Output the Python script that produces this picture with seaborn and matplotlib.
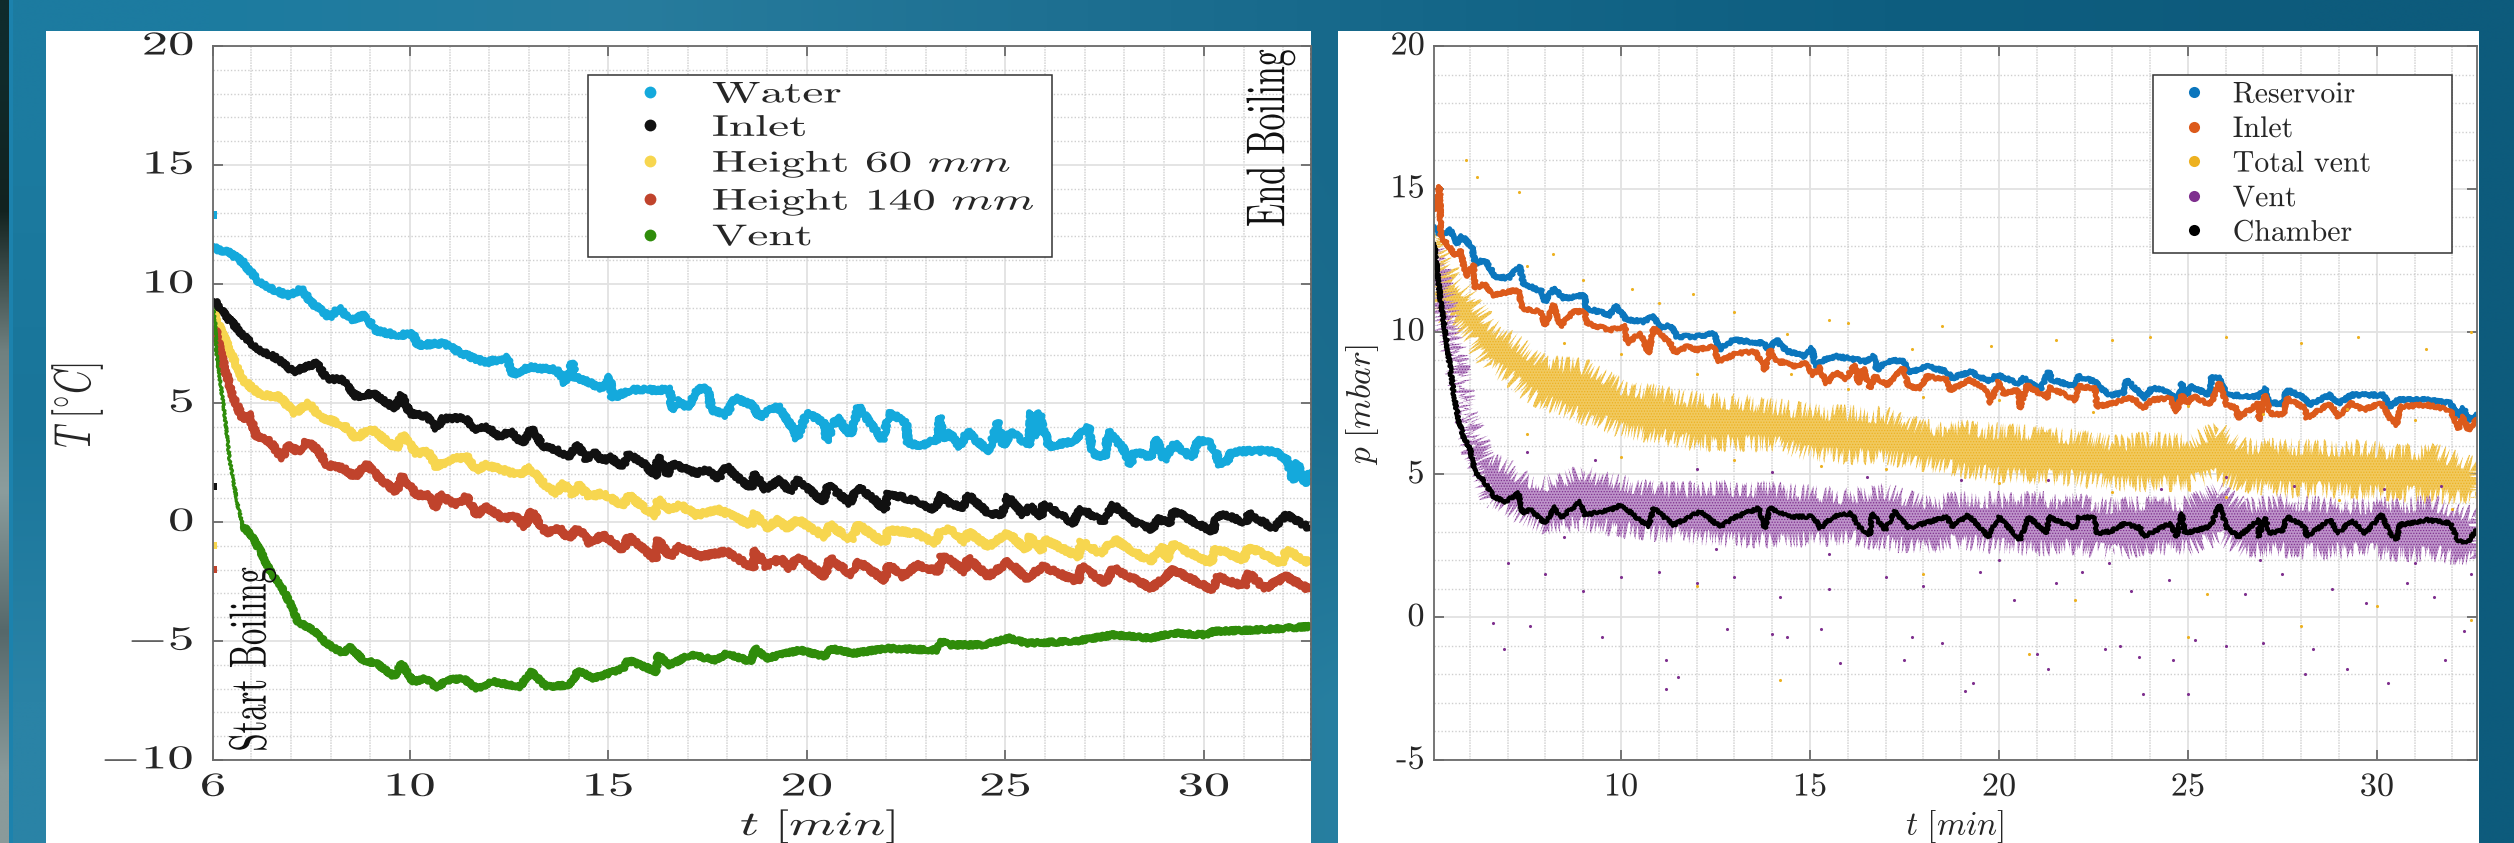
import numpy as np
import matplotlib
matplotlib.use("Agg")
import matplotlib.pyplot as plt
from matplotlib.lines import Line2D
from matplotlib.patches import Rectangle
from matplotlib.colors import to_rgb
from matplotlib.patheffects import AbstractPathEffect
from matplotlib.ticker import FixedLocator
from matplotlib.transforms import Affine2D
import seaborn as sns

# ---------- left panel: temperature ----------
water_t = [5.04,5.09,5.48,5.8,6.2,6.64,6.98,7.27,7.5,7.98,8.2,8.5,8.9,9.1,9.66,10.08,10.2,10.84,11.3,11.9,12.44,12.6,13.0,13.7,13.9,14.1,14.15,14.25,14.87,15.04,15.1,15.54,16.05,16.55,16.6,16.8,17.0,17.25,17.5,17.6,17.95,18.2,18.65,18.8,19.25,19.7,19.75,20.0,20.45,20.5,20.75,21.1,21.3,21.9,22.1,22.5,22.55,22.9,23.3,23.35,23.42,23.6,23.85,24.05,24.25,24.6,24.8,24.95,25.15,25.6,25.65,25.75,25.85,26.1,26.7,27.1,27.2,27.5,27.6,27.96,28.15,28.25,28.7,28.8,29.0,29.25,29.7,29.85,30.1,30.3,30.4,30.6,30.7,31.35,31.8,32.1,32.25,32.35,32.55,32.7]
water_T = [11.6,11.5,11.3,10.9,10.1,9.7,9.5,9.8,9.25,8.6,8.99,8.5,8.7,8.07,7.85,7.9,7.44,7.5,7.1,6.7,6.9,6.2,6.5,6.4,5.85,6.7,6.05,6.05,5.6,6.1,5.2,5.55,5.55,5.55,4.7,5.1,4.8,5.6,5.6,4.7,4.5,5.2,4.9,4.4,4.9,3.8,3.5,4.6,4.15,3.4,4.4,3.65,4.85,3.45,4.6,4.15,3.3,3.2,3.5,4.4,3.5,3.73,3.17,3.8,3.45,3.0,4.2,3.2,3.8,3.2,4.6,3.6,4.6,3.17,3.4,4.0,2.9,2.7,3.8,3.1,2.4,2.95,2.7,3.5,2.6,3.3,2.7,3.4,3.4,2.95,2.4,2.6,2.95,3.0,2.95,2.6,1.75,2.5,1.6,2.15]

inlet_t = [5.04,5.09,5.38,5.8,6.14,6.64,7.06,7.4,7.65,7.9,8.32,8.65,9.07,9.62,9.79,10.0,10.42,10.67,10.84,11.38,11.68,11.93,12.26,12.52,12.85,13.06,13.36,13.69,13.99,14.24,14.45,14.62,14.87,15.0,15.37,15.5,15.84,16.2,16.25,16.5,16.59,17.22,17.47,17.77,17.98,18.23,18.6,18.69,18.94,19.32,19.57,19.78,20.41,20.54,21.08,21.29,21.71,21.96,22.05,22.76,23.22,23.39,23.52,23.94,24.06,24.57,24.9,25.07,25.45,25.62,25.91,25.95,26.71,26.88,27.46,27.72,28.22,28.72,28.81,29.14,29.23,29.73,30.23,30.32,30.57,31.07,31.12,31.75,32.08,32.67]
inlet_T = [9.3,9.26,8.63,7.86,7.3,6.88,6.32,6.53,6.67,6.04,5.97,5.27,5.41,4.78,5.34,4.57,4.43,3.94,4.36,4.36,3.87,4.0,3.59,3.8,3.31,3.94,3.17,3.03,2.75,3.24,2.6,2.96,2.54,2.75,2.33,2.82,2.54,1.9,2.75,1.98,2.47,2.05,2.19,1.84,2.33,1.91,1.42,2.05,1.35,1.77,1.28,1.77,0.86,1.56,0.79,1.49,0.93,0.51,1.21,0.86,0.51,1.14,0.86,0.58,1.14,0.37,0.3,1.07,0.3,0.65,0.23,0.79,-0.05,0.58,0.02,0.72,0.02,-0.33,0.16,-0.05,0.51,0.02,-0.4,0.23,0.3,-0.05,0.37,-0.26,0.3,-0.26]

h60_t = [5.05,5.09,5.38,5.8,6.22,6.72,7.1,7.44,7.73,8.32,8.65,9.0,9.66,9.81,10.17,10.46,10.67,11.0,11.43,11.68,11.93,12.35,12.73,13.02,13.36,13.69,13.86,14.11,14.24,14.53,14.87,15.37,15.5,16.17,16.25,16.55,16.8,17.22,17.8,18.6,18.69,18.98,19.28,19.49,19.78,20.45,20.58,21.12,21.29,21.96,22.05,22.76,23.22,23.39,23.6,23.98,24.06,24.57,25.07,25.53,25.62,25.91,26.0,26.83,26.92,27.38,27.76,28.64,28.98,29.06,29.23,30.19,30.28,31.0,31.12,31.96,32.08,32.67]
h60_T = [8.8,8.63,7.51,5.97,5.34,5.27,4.57,4.99,4.43,4.08,3.52,3.94,3.1,3.66,2.89,2.96,2.33,2.61,2.75,2.19,2.4,2.19,1.98,2.26,1.63,1.21,1.63,1.14,1.56,1.07,1.21,0.65,1.14,0.23,0.93,0.51,0.72,0.3,0.51,-0.12,0.37,-0.26,0.09,-0.26,0.09,-0.61,-0.12,-0.75,-0.12,-0.89,-0.33,-0.47,-0.89,-0.33,-0.33,-0.82,-0.4,-1.03,-0.47,-1.17,-0.61,-1.17,-0.75,-1.45,-0.82,-1.31,-0.75,-1.66,-1.03,-1.59,-0.96,-1.73,-1.1,-1.59,-1.03,-1.73,-1.17,-1.73]

h140_t = [5.06,5.13,5.25,5.55,5.8,5.93,6.14,6.47,6.79,6.93,7.18,7.4,7.69,7.9,8.32,8.61,8.91,9.24,9.66,9.81,10.17,10.5,10.65,10.75,11.17,11.43,11.68,11.89,12.35,12.68,12.89,13.06,13.44,13.78,13.99,14.24,14.53,14.87,15.37,15.5,16.21,16.25,16.55,16.8,17.3,17.98,18.65,18.69,18.98,19.32,19.57,19.78,20.45,20.58,21.12,21.29,21.96,22.05,22.43,22.76,23.31,23.39,23.6,23.98,24.06,24.57,25.07,25.53,25.95,26.83,26.92,27.51,27.72,28.68,29.23,30.23,30.32,31.03,31.12,31.54,32.08,32.67]
h140_T = [8.1,7.93,6.95,5.27,4.29,4.57,3.59,3.38,2.68,3.24,2.96,3.38,3.03,2.4,2.26,1.91,2.4,1.84,1.27,1.91,1.14,1.14,0.58,1.14,0.72,1.07,0.29,0.65,0.16,0.23,-0.2,0.44,-0.47,-0.27,-0.69,-0.26,-0.89,-0.54,-1.17,-0.61,-1.59,-0.75,-1.45,-1.03,-1.45,-1.24,-1.94,-1.17,-1.87,-1.52,-1.94,-1.45,-2.29,-1.52,-2.22,-1.66,-2.43,-1.8,-2.29,-1.8,-2.08,-1.45,-1.59,-2.08,-1.52,-2.29,-1.66,-2.36,-1.87,-2.5,-1.87,-2.57,-1.94,-2.78,-2.01,-2.85,-2.29,-2.71,-2.15,-2.78,-2.29,-2.85]

vent_t = [5.04,5.09,5.13,5.34,5.46,5.67,5.8,5.97,6.22,6.47,6.77,6.98,7.18,7.56,7.9,8.32,8.49,8.82,9.16,9.62,9.79,10.08,10.42,10.67,10.92,11.34,11.68,12.1,12.77,13.06,13.44,13.99,14.11,14.24,14.62,15.37,15.5,16.21,16.25,16.55,17.05,17.72,17.98,18.6,18.69,18.98,19.82,20.49,20.58,21.17,22.0,23.27,23.39,23.6,24.44,25.11,25.53,26.71,27.72,28.64,29.23,30.07,30.23,31.33,32.08,32.67]
vent_T = [8.98,8.49,7.09,4.43,2.61,0.65,-0.2,-0.47,-1.18,-2.02,-2.72,-3.42,-4.19,-4.54,-5.1,-5.52,-5.24,-5.8,-5.94,-6.5,-5.94,-6.71,-6.57,-6.99,-6.64,-6.57,-6.99,-6.71,-6.92,-6.29,-6.92,-6.85,-6.7,-6.22,-6.57,-6.15,-5.8,-6.29,-5.59,-6.01,-5.59,-5.8,-5.52,-5.87,-5.31,-5.73,-5.38,-5.66,-5.31,-5.52,-5.31,-5.38,-5.03,-5.16,-5.16,-4.88,-5.09,-5.02,-4.74,-4.88,-4.67,-4.74,-4.6,-4.53,-4.46,-4.39]

axis_dots_t = [5.06,5.06,5.06,5.06]
axis_dots_T = [12.9,1.5,-1.0,-2.0]

# ---------- right panel: pressure ----------
res_t = [5.06,5.21,5.48,5.66,5.79,6.05,6.14,6.4,6.67,7.02,7.31,7.42,7.9,7.99,8.21,8.48,8.83,9.02,9.08,9.71,9.84,10.15,10.59,10.86,11.03,11.3,11.48,12.0,12.49,12.58,12.97,13.77,13.9,14.12,14.25,14.43,14.87,15.05,15.14,15.36,15.71,16.5,16.68,16.77,17.03,17.47,17.6,18.09,18.62,18.75,19.24,19.72,19.94,20.52,20.65,21.09,21.31,21.4,22.01,22.1,22.54,22.68,22.94,23.29,23.38,23.69,23.87,24.04,24.53,24.7,24.84,24.97,25.06,25.59,25.63,25.83,26.03,26.87,27.04,27.17,27.53,27.61,28.1,28.19,28.76,28.98,29.33,30.17,30.35,30.57,31.32,31.94,32.16,32.29,32.42,32.64]
res_p = [13.68,13.38,13.56,13.09,13.33,12.98,12.39,12.51,11.93,11.87,12.28,11.69,11.4,11.05,11.52,11.17,11.23,11.28,10.82,10.58,10.93,10.41,10.35,10.53,10.12,10.23,9.83,9.83,9.94,9.36,9.71,9.59,9.36,9.71,9.48,9.3,9.13,9.42,8.78,9.01,9.13,8.95,9.13,8.66,8.95,9.01,8.54,8.78,8.6,8.37,8.6,8.25,8.48,8.19,8.37,7.96,8.6,8.31,8.08,8.43,8.25,8.02,7.78,7.84,8.31,7.9,7.67,8.02,7.9,7.49,8.19,7.78,8.08,7.78,8.43,8.37,7.78,7.73,8.02,7.49,7.49,7.96,7.67,7.43,7.78,7.49,7.78,7.78,7.38,7.61,7.61,7.49,7.03,7.32,6.91,7.08]

inl_t = [5.06,5.2,5.23,5.48,5.61,5.76,5.88,6.1,6.14,6.4,6.58,7.29,7.37,7.86,7.99,8.21,8.39,8.74,9.05,9.09,9.71,10.11,10.15,10.51,10.73,10.86,11.3,11.43,11.74,12.0,12.45,12.58,13.06,13.55,13.81,13.94,14.17,14.25,14.56,14.87,15.09,15.22,15.44,15.71,15.93,16.19,16.28,16.41,16.59,16.72,17.03,17.47,17.6,17.91,18.09,18.62,18.71,19.24,19.72,19.77,19.99,20.12,20.52,20.56,20.74,21.27,21.31,22.01,22.1,22.54,22.59,23.03,23.38,23.6,23.82,24.04,24.53,24.7,24.84,24.97,25.15,25.59,25.83,26.03,26.29,26.32,26.87,26.88,27.04,27.17,27.53,27.61,28.1,28.14,28.76,28.98,29.33,29.64,30.12,30.35,30.52,30.61,31.32,31.94,32.16,32.29,32.42,32.64]
inl_p = [14.26,15.08,13.33,12.92,12.68,12.86,11.93,12.33,11.52,11.69,11.28,11.46,10.82,10.7,10.23,10.93,10.18,10.7,10.7,10.29,10.06,10.18,9.59,9.94,9.24,10.12,9.59,9.24,9.48,9.36,9.48,8.95,9.24,9.3,8.66,9.36,8.89,8.95,8.78,8.89,8.48,8.78,8.19,8.6,8.31,8.83,8.19,8.72,8.02,8.43,8.13,8.72,8.08,8.02,8.43,8.31,7.96,8.31,7.9,7.49,8.25,7.84,7.96,7.32,8.13,7.67,8.08,7.61,8.08,8.02,7.38,7.49,7.67,7.61,7.32,7.61,7.67,7.2,7.78,7.49,7.73,7.43,8.19,7.43,7.32,6.97,7.49,6.91,7.78,7.14,7.08,7.67,7.32,6.97,7.49,7.03,7.49,7.26,7.49,6.97,6.73,7.38,7.43,7.26,6.62,7.03,6.56,6.91]

ch_t = [5.06,5.21,5.39,5.57,5.7,5.83,6.01,6.14,6.32,6.63,6.93,7.29,7.37,7.6,7.99,8.26,8.39,8.92,9.05,9.71,10.02,10.42,10.73,10.86,11.39,12.09,12.62,12.97,13.64,13.81,13.94,14.43,14.65,15.09,15.27,15.62,16.1,16.28,16.59,16.64,16.99,17.25,17.6,18.62,18.75,19.19,19.72,19.99,20.56,20.78,21.27,21.31,22.01,22.1,22.54,22.59,22.94,23.34,23.69,23.73,23.82,24.53,24.7,24.84,24.92,25.59,25.83,26.03,26.34,26.87,26.88,27.04,27.17,27.53,27.61,28.1,28.14,28.76,28.98,29.33,29.69,30.12,30.35,30.52,30.61,31.32,31.94,32.16,32.42,32.64]
ch_p = [13.09,11.23,9.59,7.84,6.91,6.33,5.86,5.04,4.87,4.22,4.05,4.34,3.64,3.76,3.29,3.87,3.47,4.05,3.58,3.76,3.93,3.47,3.17,3.82,3.23,3.7,3.17,3.47,3.82,3.12,3.82,3.52,3.52,3.52,3.12,3.52,3.64,3.18,2.88,3.64,3.06,3.7,3.12,3.52,3.18,3.58,2.82,3.52,2.71,3.52,2.94,3.52,3.12,3.52,3.47,2.94,3.0,3.29,3.12,3.17,2.82,3.29,2.82,3.64,2.94,3.17,3.93,3.12,2.82,3.41,2.82,3.47,2.94,3.06,3.52,3.17,2.82,3.41,2.94,3.41,2.94,3.58,2.94,2.71,3.23,3.41,3.29,2.65,2.65,3.06]

tv_t  = [5.06,5.2,5.6,6.0,6.5,7,7.5,8,9,10,11,12,13,14,15,16,17,18,19,20,21,22,23,24,25,25.8,26.5,27.5,28.5,29.5,30.5,31.5,32.64]
tv_hi = [13.4,12.98,11.93,11.34,10.29,9.83,9.36,8.89,8.78,8.08,7.84,7.6,7.55,7.38,7.2,7.14,7.08,6.62,6.62,6.5,6.44,6.33,6.09,6.21,6.15,6.56,5.98,5.98,5.92,5.92,5.8,5.8,5.28]
tv_lo = [12.4,10.64,10.3,9.7,8.78,8.43,7.84,7.49,7.03,6.56,6.33,6.09,6.09,6.09,5.74,5.63,5.63,5.39,5.16,4.98,4.92,4.87,4.69,4.69,4.69,4.93,4.63,4.46,4.46,4.4,4.34,4.28,4.11]

pv_t  = [5.06,5.2,5.5,6.0,6.5,7,7.5,8,9,10,11,12,13,14,15,16,17,18,19,20,21,22,23,24,25,25.8,26.5,27.5,28.5,29.5,30.5,31.5,32.64]
pv_hi = [13.0,12.5,10.9,7.14,5.5,5.27,4.8,4.69,5.04,4.69,4.46,4.46,4.52,4.46,4.34,4.23,4.4,3.99,4.11,4.11,4.11,4.05,3.88,3.99,3.99,4.46,3.87,4.05,3.93,3.87,3.93,3.99,3.53]
pv_lo = [12.6,10.5,9.0,5.74,4.1,3.8,3.41,3.18,3.29,3.06,2.94,2.82,2.71,2.71,2.77,2.77,2.59,2.48,2.65,2.48,2.42,2.48,2.24,2.48,2.42,2.82,2.36,2.36,2.3,2.36,2.24,2.24,2.0]

pv_dots_t = [6.6,7.6,6.9,9.5,11.2,11.5,11.2,12.8,14,14.4,15.3,15.8,17.5,17.7,18.5,19.3,19.1,21,21.3,22.8,23.2,23.7,23.8,24.6,25,25.2,26.0,27,28.1,28.3,29.2,30.3,31.8,32.3,11,12,13,14.2,15.5,17,18,19.5,20.4,21.5,22.2,23.5,24.5,26.5,27.5,28.8,29.7,30.8,31.5,32.5,7,8,9,10,7.5,9.3,12,14,16.5,19,21.3,24.3,26,27.8,30.2,31.7,8.5,12.5,15.5,20,22.9,26.9,31]
pv_dots_p = [-0.2,-0.3,-1.1,-0.7,-1.5,-2.1,-2.5,-0.4,-0.6,-0.7,-0.4,-1.6,-1.5,-0.7,-0.9,-2.3,-2.6,-1.3,-1.8,-1.1,-1.0,-1.4,-2.7,-1.5,-2.7,-0.8,-1.0,-0.9,-2.0,-1.1,-1.8,-2.3,-1.5,-0.5,1.6,1.2,1.4,0.7,1.0,1.4,1.1,1.6,0.6,1.2,1.6,0.9,1.3,0.8,1.5,1.0,0.5,1.2,0.7,1.5,1.9,1.5,0.9,1.4,5.8,5.5,5.2,5.1,4.9,4.8,4.8,4.5,4.9,4.6,4.5,4.6,2.8,2.4,2.2,2.0,1.9,2.0,1.9]

tv_dots_t = [5.9,6.2,7.3,7.5,8.2,9,10.3,11,11.9,13,14.4,15.5,16,17.7,18.5,19.8,21.5,23,24,26,28,29.5,31.3,32.5,14.5,18,20,22.5,25,27,29.2,31,8.5,10,12,16,7.5,10,13,15.3,17,20,23,26,29,32,12,18,22,25.5,28,32.5,14.2,30,25,20.8]
tv_dots_p = [16,15.4,14.9,12.3,12.7,11.8,11.5,11,11.3,10.7,9.9,10.4,10.3,9.4,10.2,9.5,9.7,9.7,9.8,9.8,9.6,9.8,9.4,10,8.5,7.7,7.6,7.2,7.4,7.1,7.3,6.9,9.6,9.2,8.5,8,6.4,5.6,5.5,5.3,5.2,4.7,4.4,4.2,4.1,3.8,1.1,1.5,0.6,0.8,-0.3,-0.1,-2.2,0.4,-0.7,-1.3]

left_names = ["Water", "Inlet", "Height 60 $mm$", "Height 140 $mm$", "Vent"]
left_colors = ["#14a9dc", "#111111", "#f7d64f", "#c0432c", "#2f8c0a"]
right_names = ["Reservoir", "Inlet", "Total vent", "Vent", "Chamber"]
right_colors = ["#0b76bd", "#dc5a1b", "#edb120", "#7e2f8e", "#000000"]

left_xticks = [5.04, 10, 15, 20, 25, 30]
left_xlabels = ["6", "10", "15", "20", "25", "30"]
left_yticks = [-10, -5, 0, 5, 10, 15, 20]
left_ylabels = ["$-10$", "$-5$", "0", "5", "10", "15", "20"]
right_xticks = [10, 15, 20, 25, 30]
right_yticks = [-5, 0, 5, 10, 15, 20]
right_ylabels = ["-5", "0", "5", "10", "15", "20"]
minor_x = list(range(6, 33))

W, H = 2514, 843
sns.set_theme(style="white")
plt.rcParams["font.family"] = ["cmr10", "DejaVu Serif"]
plt.rcParams["mathtext.fontset"] = "cm"
plt.rcParams["axes.formatter.use_mathtext"] = True
plt.rcParams["axes.unicode_minus"] = False
plt.rcParams["hatch.linewidth"] = 0.6


class Stretch(AbstractPathEffect):
    """Widen glyph outlines, as the reference panel was resized non-uniformly."""
    def __init__(self, sx=1.0, sy=1.0, anchor="center", dy=0.0):
        super().__init__()
        self.sx, self.sy, self.anchor, self.dy = sx, sy, anchor, dy

    def draw_path(self, renderer, gc, tpath, affine, rgbFace=None):
        e = tpath.get_extents()
        cx = {"left": e.x0, "right": e.x1, "center": (e.x0 + e.x1) / 2}[self.anchor]
        cy = (e.y0 + e.y1) / 2
        a = (Affine2D().translate(-cx, -cy).scale(self.sx, self.sy).translate(cx, cy)
             + affine + Affine2D().translate(0, self.dy))
        renderer.draw_path(gc, tpath, a, rgbFace)


fig = plt.figure(figsize=(W / 100, H / 100), dpi=100)

# background picture behind the two white panels
bg = fig.add_axes([0, 0, 1, 1], zorder=-1)
bg_grid = [["#1c7ba0", "#277c9d", "#1e7092", "#146688", "#0e5e80", "#0d5b7c"],
           ["#19759a", "#1f7a9e", "#1f7394", "#1a6a8c", "#0e5e80", "#0d5b7c"],
           ["#2a83a6", "#1f7394", "#1f7394", "#2a84a6", "#0e5e80", "#0d5b7c"]]
bg.imshow([[to_rgb(c) for c in row] for row in bg_grid], extent=(0, W, H, 0),
          aspect="auto", interpolation="bilinear")
strip = ["#0f2b2c", "#12221f", "#70807f", "#8c9d9d", "#56686a", "#8a9a9a"]
bg.imshow([[to_rgb(c)] for c in strip], extent=(0, 9, H, 0), aspect="auto",
          interpolation="bilinear")
bg.add_patch(Rectangle((9, 0), 3.5, H, color="#1c82ad", lw=0))
bg.add_patch(Rectangle((46, 31), 1265, H - 31, color="white", lw=0))
bg.add_patch(Rectangle((1338, 31), 1141, H - 31, color="white", lw=0))
bg.set_xlim(0, W); bg.set_ylim(H, 0); bg.axis("off")


def make_axes(x0, x1, y0=46, y1=760):
    return fig.add_axes([x0 / W, 1 - y1 / H, (x1 - x0) / W, (y1 - y0) / H], zorder=2)


def style(ax, xt, xl, yt, yl, ylim, xlim, sx, y_anchor):
    ax.set_xlim(*xlim); ax.set_ylim(*ylim)
    ax.set_xticks(xt, xl); ax.set_yticks(yt, yl)
    ax.xaxis.set_minor_locator(FixedLocator(minor_x))
    ax.yaxis.set_minor_locator(FixedLocator(list(range(ylim[0], ylim[1] + 1))))
    ax.set_axisbelow(True)
    ax.grid(True, which="major", color="#e2e2e2", lw=1.3)
    ax.grid(True, which="minor", axis="y", color="#cfcfcf", lw=1.0, ls=(0, (1, 1.5)))
    ax.grid(True, which="minor", axis="x", color="#dadada", lw=1.2, ls=(0, (1, 0.6)))
    ax.tick_params(which="major", direction="in", length=7, width=1.1, color="#555555",
                   top=True, right=True, bottom=True, left=True, labelsize=24,
                   labelcolor="#262626")
    ax.tick_params(which="minor", length=0)
    for s in ax.spines.values():
        s.set_color("#6a6a6a"); s.set_linewidth(1.3)
    for lab in ax.get_xticklabels():
        lab.set_path_effects([Stretch(sx, 1.0)])
    for lab in ax.get_yticklabels():
        lab.set_path_effects([Stretch(sx, 1.0, y_anchor, dy=3)])


def draw_line(ax, t, v, color, lw, jitter=(2.2, 4.0, 3.0)):
    sns.lineplot(x=t, y=v, ax=ax, color=color, lw=lw, sort=False, estimator=None,
                 errorbar=None, legend=False, solid_joinstyle="round")
    ax.lines[-1].set_sketch_params(*jitter)


def legend(ax, names, colors, box, border, hlen, tpad, ms, sx, space):
    handles = [Line2D([], [], ls="", marker="o", ms=ms, color=c, mew=0) for c in colors]
    leg = ax.legend(handles, names, loc="upper left", bbox_to_anchor=box, mode="expand",
                    borderaxespad=0, fontsize=21.5, frameon=True, fancybox=False,
                    framealpha=1, edgecolor="#333333", borderpad=border, handlelength=hlen,
                    handletextpad=tpad, labelspacing=space, labelcolor="#262626")
    leg.get_frame().set_linewidth(1.1)
    leg.set_zorder(10)
    for txt in leg.get_texts():
        txt.set_path_effects([Stretch(sx, 1.0, "left")])


# ---------- left panel ----------
ax1 = make_axes(213, 1311)
draw_line(ax1, water_t, water_T, left_colors[0], 4.6)
draw_line(ax1, inlet_t, inlet_T, left_colors[1], 4.4)
draw_line(ax1, h60_t, h60_T, left_colors[2], 4.8)
draw_line(ax1, h140_t, h140_T, left_colors[3], 4.8)
draw_line(ax1, vent_t[:8], vent_T[:8], left_colors[4], 2.2, (1.0, 4.0, 3.0))
draw_line(ax1, vent_t[6:], vent_T[6:], left_colors[4], 4.8, (1.6, 4.0, 3.0))
sns.scatterplot(x=axis_dots_t, y=axis_dots_T, ax=ax1, s=28, linewidth=0, marker="s", hue=axis_dots_T,
                palette=[left_colors[3], left_colors[2], left_colors[1], left_colors[0]], legend=False, clip_on=True)
style(ax1, left_xticks, left_xlabels, left_yticks, left_ylabels, (-10, 20), (5.04, 32.7), 1.58, "right")
ax1.tick_params(axis="y", pad=14)
ax1.tick_params(axis="x", pad=9)
ax1.axvline(32.7, color="#333333", lw=1.8, ls=(0, (1, 1)))
ax1.set_xlabel("$t\\ [min]$", fontsize=24.5, color="#262626", va="center")
ax1.xaxis.set_label_coords(0.551, -0.093)
ax1.xaxis.label.set_path_effects([Stretch(1.55, 1.0)])
ax1.set_ylabel("$T\\ [^{\\circ}C]$", fontsize=24, color="#262626", va="center")
ax1.yaxis.set_label_coords(-0.124, 0.497)
ax1.yaxis.label.set_path_effects([Stretch(1.0, 1.55)])
ax1.text(0.963, 0.871, "End Boiling", transform=ax1.transAxes, rotation=90, ha="center", va="center",
         fontsize=24.5, color="#111111", path_effects=[Stretch(1.0, 1.6)], zorder=8)
ax1.text(0.0355, 0.141, "Start Boiling", transform=ax1.transAxes, rotation=90, ha="center", va="center",
         fontsize=23.5, color="#111111", path_effects=[Stretch(1.0, 1.6)], zorder=8)
legend(ax1, left_names, left_colors, ((587.5 - 213) / 1098, (760 - 254) / 714, 464.5 / 1098, 179 / 714),
       0.2, 3.8, 0.18, 8.5, 1.58, 0.2)

# ---------- right panel ----------
ax2 = make_axes(1434, 2477)
band_jitter = (9.0, 3.0, 6.0)
b1 = ax2.fill_between(tv_t, tv_lo, tv_hi, facecolor="#f1c95e", edgecolor=right_colors[2], hatch="......", linewidth=0, zorder=2)
b2 = ax2.fill_between(pv_t, pv_lo, pv_hi, facecolor="#bd93c9", edgecolor=right_colors[3], hatch="......", linewidth=0, zorder=2)
b1.set_sketch_params(*band_jitter)
b2.set_sketch_params(*band_jitter)
sns.scatterplot(x=tv_dots_t, y=tv_dots_p, ax=ax2, s=5, color=right_colors[2], linewidth=0, legend=False, zorder=2.5)
sns.scatterplot(x=pv_dots_t, y=pv_dots_p, ax=ax2, s=5, color=right_colors[3], linewidth=0, legend=False, zorder=2.5)
draw_line(ax2, res_t, res_p, right_colors[0], 3.6, (1.5, 3.0, 3.0))
draw_line(ax2, inl_t, inl_p, right_colors[1], 3.4, (1.5, 3.0, 3.0))
draw_line(ax2, ch_t, ch_p, right_colors[4], 2.8, (1.5, 3.0, 3.0))
style(ax2, right_xticks, [str(v) for v in right_xticks], right_yticks, right_ylabels, (-5, 20), (5.05, 32.65), 1.03, "center")
ax2.tick_params(axis="y", pad=7)
ax2.tick_params(axis="x", pad=9)
ax2.set_xlabel("$t\\ [min]$", fontsize=24, color="#262626", va="center")
ax2.xaxis.set_label_coords(0.499, -0.093)
ax2.set_ylabel("$p\\ [mbar]$", fontsize=24, color="#262626", va="center")
ax2.yaxis.set_label_coords(-0.069, 0.498)
legend(ax2, right_names, right_colors, ((2153 - 1434) / 1043, (760 - 254) / 714, 299 / 1043, 179 / 714),
       0.2, 2.34, 0.13, 8.0, 1.0, 0.24)

fig.savefig("out.png", dpi=100)
